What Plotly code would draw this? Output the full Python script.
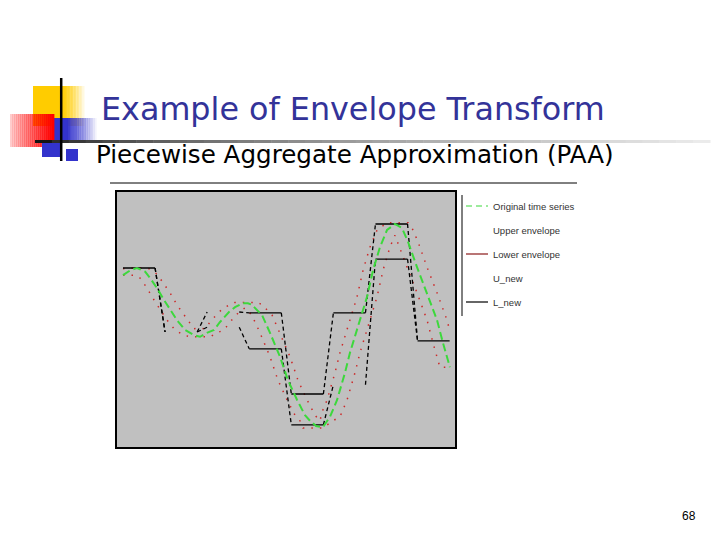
import plotly.graph_objects as go

# ---------------- data (time index, amplitude) ----------------
t_orig = [0, 2.7, 5.3, 8.4, 10.3, 12.9, 15.6, 17.9, 20.5, 23.6, 27.0, 29.3, 31.9, 34.6, 36.9,
          40.3, 42.6, 45.6, 47.5, 49.0, 52.9, 55.9, 59.7, 62.7, 66.2, 69.2, 71.1, 73.4, 76.0,
          78.7, 81.4, 84.4, 86.3, 90.1, 92.8, 95.1, 97.7, 100.4, 103.4, 106.1, 108.4, 111.8,
          115.6, 119.4, 121.7, 124.3]
y_orig = [1.12, 1.24, 1.30, 1.21, 1.05, 0.80, 0.50, 0.25, 0.0, -0.25, -0.38, -0.42, -0.32,
          -0.25, -0.05, 0.20, 0.32, 0.42, 0.42, 0.38, 0.12, -0.32, -0.92, -1.50, -2.00, -2.38,
          -2.52, -2.65, -2.68, -2.42, -2.00, -1.32, -0.82, 0.0, 0.58, 1.25, 1.82, 2.25, 2.40,
          2.30, 1.95, 1.32, 0.68, 0.0, -0.58, -1.18]

t_upper = [0.0, 1.5, 9.1, 10.3, 12.9, 15.6, 17.9, 20.5, 23.6, 27.0, 29.3, 31.2, 33.1, 36.5,
           38.8, 41.8, 42.6, 51.3, 52.9, 56.7, 59.7, 63.5, 66.5, 70.0, 73.0, 74.9, 75.7, 77.6,
           80.6, 82.5, 86.3, 89.0, 91.3, 93.9, 96.6, 100.4, 108.4, 109.9, 112.2, 115.6, 119.4,
           123.2, 124.3]
y_upper = [1.28, 1.30, 1.30, 1.27, 1.15, 0.91, 0.68, 0.38, 0.08, -0.22, -0.20, -0.22, -0.05,
           0.20, 0.32, 0.42, 0.44, 0.44, 0.38, 0.12, -0.32, -0.92, -1.50, -2.00, -2.38, -2.52,
           -2.30, -2.00, -1.32, -0.82, 0.0, 0.58, 1.25, 1.82, 2.25, 2.43, 2.43, 2.30, 1.95,
           1.32, 0.68, 0.0, -0.28]

t_lower = [0.0, 4.2, 6.5, 9.1, 11.8, 14.1, 16.7, 19.8, 23.2, 25.5, 33.1, 35.7, 38.4, 40.7,
           44.1, 46.4, 49.0, 52.1, 55.9, 58.9, 62.4, 65.4, 67.3, 68.4, 76.0, 79.8, 82.5, 85.2,
           88.2, 90.1, 93.9, 96.6, 98.9, 101.5, 103.4, 105.3, 108.0, 111.8, 115.6, 117.9,
           120.5, 124.3]
y_lower = [1.12, 1.12, 1.05, 0.80, 0.50, 0.25, 0.0, -0.25, -0.38, -0.42, -0.42, -0.32, -0.25,
           -0.05, 0.20, 0.30, 0.12, -0.32, -0.92, -1.50, -2.00, -2.38, -2.52, -2.70, -2.70,
           -2.52, -2.42, -2.00, -1.32, -0.82, 0.0, 0.58, 1.25, 1.82, 2.12, 1.81, 1.32, 0.68,
           0.0, -0.58, -1.18, -1.18]

# PAA of the envelopes: 8 frames of 16 samples
seg_len = 16
seg_span = 12.2
u_new = [1.30, -0.30, 0.20, 0.18, -1.85, 0.18, 2.40, -0.52]
l_new = [1.30, -0.30, -0.18, -0.72, -2.62, -1.62, 1.52, -0.52]
u_drawn = [True, False, False, True, True, True, True, False]
l_drawn = [False, False, False, True, True, False, True, True]

legend_labels = ["Original time series", "Upper envelope", "Lower envelope", "U_new", "L_new"]
title_text = "Example of Envelope Transform"
subtitle_text = "Piecewise Aggregate Approximation (PAA)"
page_number = "68"

# ---------------- geometry helpers (pixel -> paper) ----------------
PL, PR, PT, PB = 117, 455, 192, 447   # plot box in the slide's pixels
OFF = 8                                # page body margin
W, H = 720 - OFF, 540 - OFF


def px(x):
    return (x - PL) / (PR - PL)


def py(y):
    return (PB - y) / (PB - PT)


fig = go.Figure()

# envelopes (red dotted)
fig.add_trace(go.Scatter(x=t_upper, y=y_upper, mode="lines",
                         line=dict(color="#cc2a2a", width=1.5, dash="1.5px,7px"),
                         name=legend_labels[1], showlegend=False, hoverinfo="skip"))
fig.add_trace(go.Scatter(x=t_lower, y=y_lower, mode="lines",
                         line=dict(color="#cc2a2a", width=1.5, dash="1.5px,7px"),
                         name=legend_labels[2], showlegend=False, hoverinfo="skip"))


def step_parts(levels, drawn):
    hx, hy, tx, ty = [], [], [], []
    for k, v in enumerate(levels):
        x0 = k * seg_len
        x1 = x0 + seg_span
        if drawn[k]:
            hx += [x0, x1, None]
            hy += [v, v, None]
        if k + 1 < len(levels):
            tx += [x1, (k + 1) * seg_len, None]
            ty += [v, levels[k + 1], None]
    return hx, hy, tx, ty


for levels, drawn, name in [(u_new, u_drawn, legend_labels[3]), (l_new, l_drawn, legend_labels[4])]:
    hx, hy, tx, ty = step_parts(levels, drawn)
    fig.add_trace(go.Scatter(x=hx, y=hy, mode="lines", line=dict(color="black", width=1.3),
                             name=name, showlegend=False, hoverinfo="skip"))
    fig.add_trace(go.Scatter(x=tx, y=ty, mode="lines",
                             line=dict(color="black", width=1.3, dash="4px,3px"),
                             name=name, showlegend=False, hoverinfo="skip"))

# original series (green dashed)
fig.add_trace(go.Scatter(x=t_orig, y=y_orig, mode="lines",
                         line=dict(color="#3cd83c", width=2, dash="8px,4px"),
                         name=legend_labels[0], showlegend=False, hoverinfo="skip"))

shapes = []


def rect(x0, x1, y0, y1, color, opacity=1.0):
    shapes.append(dict(type="rect", xref="paper", yref="paper", x0=px(x0), x1=px(x1),
                       y0=py(y1), y1=py(y0), fillcolor=color, opacity=opacity,
                       line=dict(width=0), layer="above"))


def hgrad(x0, x1, y0, y1, rgb, a0, a1, n=24):
    step = (x1 - x0) / n
    for i in range(n):
        f = i / (n - 1)
        a = a0 + (a1 - a0) * f
        rect(x0 + i * step, x0 + (i + 1) * step + 0.4, y0, y1, "rgb(%d,%d,%d)" % rgb, a)


def line(x0, y0, x1, y1, color, width):
    shapes.append(dict(type="line", xref="paper", yref="paper", x0=px(x0), y0=py(y0),
                       x1=px(x1), y1=py(y1), line=dict(color=color, width=width), layer="above"))


# decorative block (top-left)
rect(33, 62, 86, 126, "#ffcc00")
hgrad(62, 86, 86, 126, (255, 204, 0), 1.0, 0.0, 16)
rect(52, 66, 118, 142, "#3333cc")
hgrad(66, 98, 118, 142, (51, 51, 204), 1.0, 0.0, 18)
hgrad(10, 54, 114, 147, (255, 0, 0), 0.2, 1.0, 22)
rect(42, 62, 142, 157, "#3333cc")
rect(66, 78, 149, 161, "#3333cc")

# gradient rule under title
n = 40
for i in range(n):
    f = i / (n - 1)
    v = int(20 + 215 * (f ** 0.6))
    xa = 35 + (710 - 35) * i / n
    xb = 35 + (710 - 35) * (i + 1) / n
    line(xa, 141.5, xb + 0.5, 141.5, "rgb(%d,%d,%d)" % (v, v, v), 3)
line(61.2, 78, 61.2, 161, "black", 2.5)

# rule under subtitle
line(110, 183, 577, 183, "black", 1)

# legend (drawn manually, outside the axes)
line(462, 195, 462, 316, "black", 1)
legend_y = [206, 230, 254, 278, 302]
shapes.append(dict(type="line", xref="paper", yref="paper", x0=px(466), x1=px(488),
                   y0=py(legend_y[0]), y1=py(legend_y[0]),
                   line=dict(color="#3cd83c", width=1.2, dash="6px,4px"), layer="above"))
line(466, legend_y[2], 488, legend_y[2], "#8b1a1a", 1.2)
line(466, legend_y[4], 488, legend_y[4], "black", 1.2)

annotations = []
for lab, yy in zip(legend_labels, legend_y):
    annotations.append(dict(text=lab, xref="paper", yref="paper", x=px(491), y=py(yy),
                            xanchor="left", yanchor="middle", showarrow=False,
                            font=dict(family="Liberation Sans, Arial", size=9.5, color="#333")))

annotations.append(dict(text=title_text, xref="paper", yref="paper", x=px(99), y=py(108),
                        xanchor="left", yanchor="middle", showarrow=False,
                        font=dict(family="DejaVu Sans", size=31.8, color="#333399")))
annotations.append(dict(text=subtitle_text, xref="paper", yref="paper", x=px(94), y=py(154),
                        xanchor="left", yanchor="middle", showarrow=False,
                        font=dict(family="DejaVu Sans", size=24.6, color="black")))
annotations.append(dict(text=page_number, xref="paper", yref="paper", x=px(698), y=py(516),
                        xanchor="right", yanchor="middle", showarrow=False,
                        font=dict(family="Liberation Sans, Arial", size=12, color="black")))

fig.update_layout(
    width=W, height=H,
    margin=dict(l=PL - OFF, r=W - (PR - OFF), t=PT - OFF, b=H - (PB - OFF), pad=0),
    paper_bgcolor="white", plot_bgcolor="#c0c0c0",
    showlegend=False,
    shapes=shapes, annotations=annotations,
    xaxis=dict(range=[-2.28, 126.24], showticklabels=False, showgrid=False, zeroline=False,
               ticks="", showline=True, mirror=True, linecolor="black", linewidth=2),
    yaxis=dict(range=[-3.175, 3.2], showticklabels=False, showgrid=False, zeroline=False,
               ticks="", showline=True, mirror=True, linecolor="black", linewidth=2),
)

fig.write_html("out.html")
